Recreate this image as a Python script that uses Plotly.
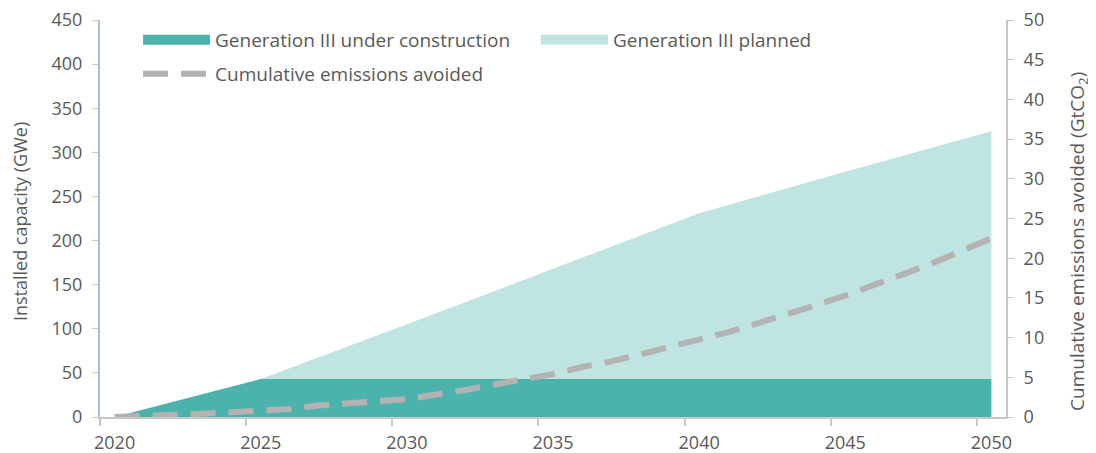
import plotly.graph_objects as go

# ---- data ----
cap_years = [2020, 2025, 2030, 2035, 2040, 2045, 2050]
gen3_under_construction = [0, 43, 43, 43, 43, 43, 43]
gen3_planned = [0, 0, 62, 125, 188, 235, 281]

em_years = list(range(2020, 2051))
emissions_avoided = [0, 0.1, 0.25, 0.4, 0.6, 0.75, 1.0, 1.45, 1.8, 2.0,
                     2.25, 2.8, 3.4, 4.1, 4.75, 5.4, 6.3, 7.0, 7.9, 8.8,
                     9.65, 10.7, 11.8, 12.9, 14.1, 15.3, 16.6, 18.0, 19.4, 20.9,
                     22.5]

tick_years = [2020, 2025, 2030, 2035, 2040, 2045, 2050]

left_title = "Installed capacity (GWe)"
right_title = "Cumulative emissions avoided (GtCO<sub>2</sub>)"

DARK = "#4bb3ab"
LIGHT = "#c0e4e1"
DASH = "#b3b3b3"
TXT = "#595959"
AX = "#c8c8c8"
FONT = "Open Sans"

fig = go.Figure()

fig.add_trace(go.Scatter(
    x=cap_years, y=gen3_under_construction, stackgroup="cap",
    mode="none", fillcolor=DARK, showlegend=False, hoverinfo="skip"))
fig.add_trace(go.Scatter(
    x=cap_years, y=gen3_planned, stackgroup="cap",
    mode="none", fillcolor=LIGHT, showlegend=False, hoverinfo="skip"))
fig.add_trace(go.Scatter(
    x=em_years, y=emissions_avoided, yaxis="y2", mode="lines",
    line=dict(color=DASH, width=6, dash="25px,13px"),
    name="Cumulative emissions avoided", legend="legend2"))

# legend entries for the areas
fig.add_trace(go.Scatter(
    x=[None], y=[None], mode="lines", line=dict(color=DARK, width=12),
    name="Generation III under construction", legend="legend"))
fig.add_trace(go.Scatter(
    x=[None], y=[None], mode="lines", line=dict(color=LIGHT, width=12),
    name="Generation III planned", legend="legend"))

fig.update_layout(
    width=1088, height=445,
    margin=dict(l=92, r=90, t=12, b=36, autoexpand=False),
    paper_bgcolor="white", plot_bgcolor="white",
    font=dict(family=FONT, size=18, color=TXT),
    xaxis=dict(
        range=[2019.5, 2050.5], tickmode="array", tickvals=tick_years,
        ticktext=[str(t) for t in tick_years],
        ticks="outside", ticklen=8, tickcolor="rgba(0,0,0,0)",
        minor=dict(tick0=2019.5, dtick=5, ticks="outside", ticklen=7,
                   tickcolor=AX, tickwidth=2, showgrid=False),
        showline=True, linecolor=AX, linewidth=2, showgrid=False,
        zeroline=False, ticklabeloverflow="allow",
        tickfont=dict(size=18, color=TXT)),
    yaxis=dict(
        range=[0, 450], dtick=50, ticks="outside", ticklen=6,
        tickcolor=AX, showline=True, linecolor="#aebfd3", linewidth=2,
        showgrid=False, zeroline=False, ticklabeloverflow="allow",
        ticklabelstandoff=6, tickfont=dict(size=18, color=TXT)),
    yaxis2=dict(
        range=[0, 50], dtick=5, overlaying="y", side="right",
        ticks="outside", ticklen=6, tickcolor=AX, showline=True,
        linecolor=AX, linewidth=2, showgrid=False, zeroline=False,
        ticklabeloverflow="allow", ticklabelstandoff=6,
        tickfont=dict(size=18, color=TXT)),
    legend=dict(
        orientation="h", xref="paper", yref="paper",
        x=0.042, y=0.998, xanchor="left", yanchor="top",
        itemwidth=67, entrywidth=316, entrywidthmode="pixels",
        bgcolor="rgba(0,0,0,0)", font=dict(size=19, color=TXT),
        traceorder="normal"),
    legend2=dict(
        orientation="h", xref="paper", yref="paper",
        x=0.042, y=0.912, xanchor="left", yanchor="top",
        itemwidth=67, bgcolor="rgba(0,0,0,0)",
        font=dict(size=19, color=TXT)),
    showlegend=True,
    annotations=[
        dict(text=left_title, textangle=-90, xref="paper", yref="paper",
             x=-0.0883, y=0.491, xanchor="center", yanchor="middle",
             showarrow=False, font=dict(size=18, color=TXT)),
        dict(text=right_title, textangle=-90, xref="paper", yref="paper",
             x=1.0795, y=0.441, xanchor="center", yanchor="middle",
             showarrow=False, font=dict(size=19, color=TXT)),
    ],
)

fig.write_html("out.html")
